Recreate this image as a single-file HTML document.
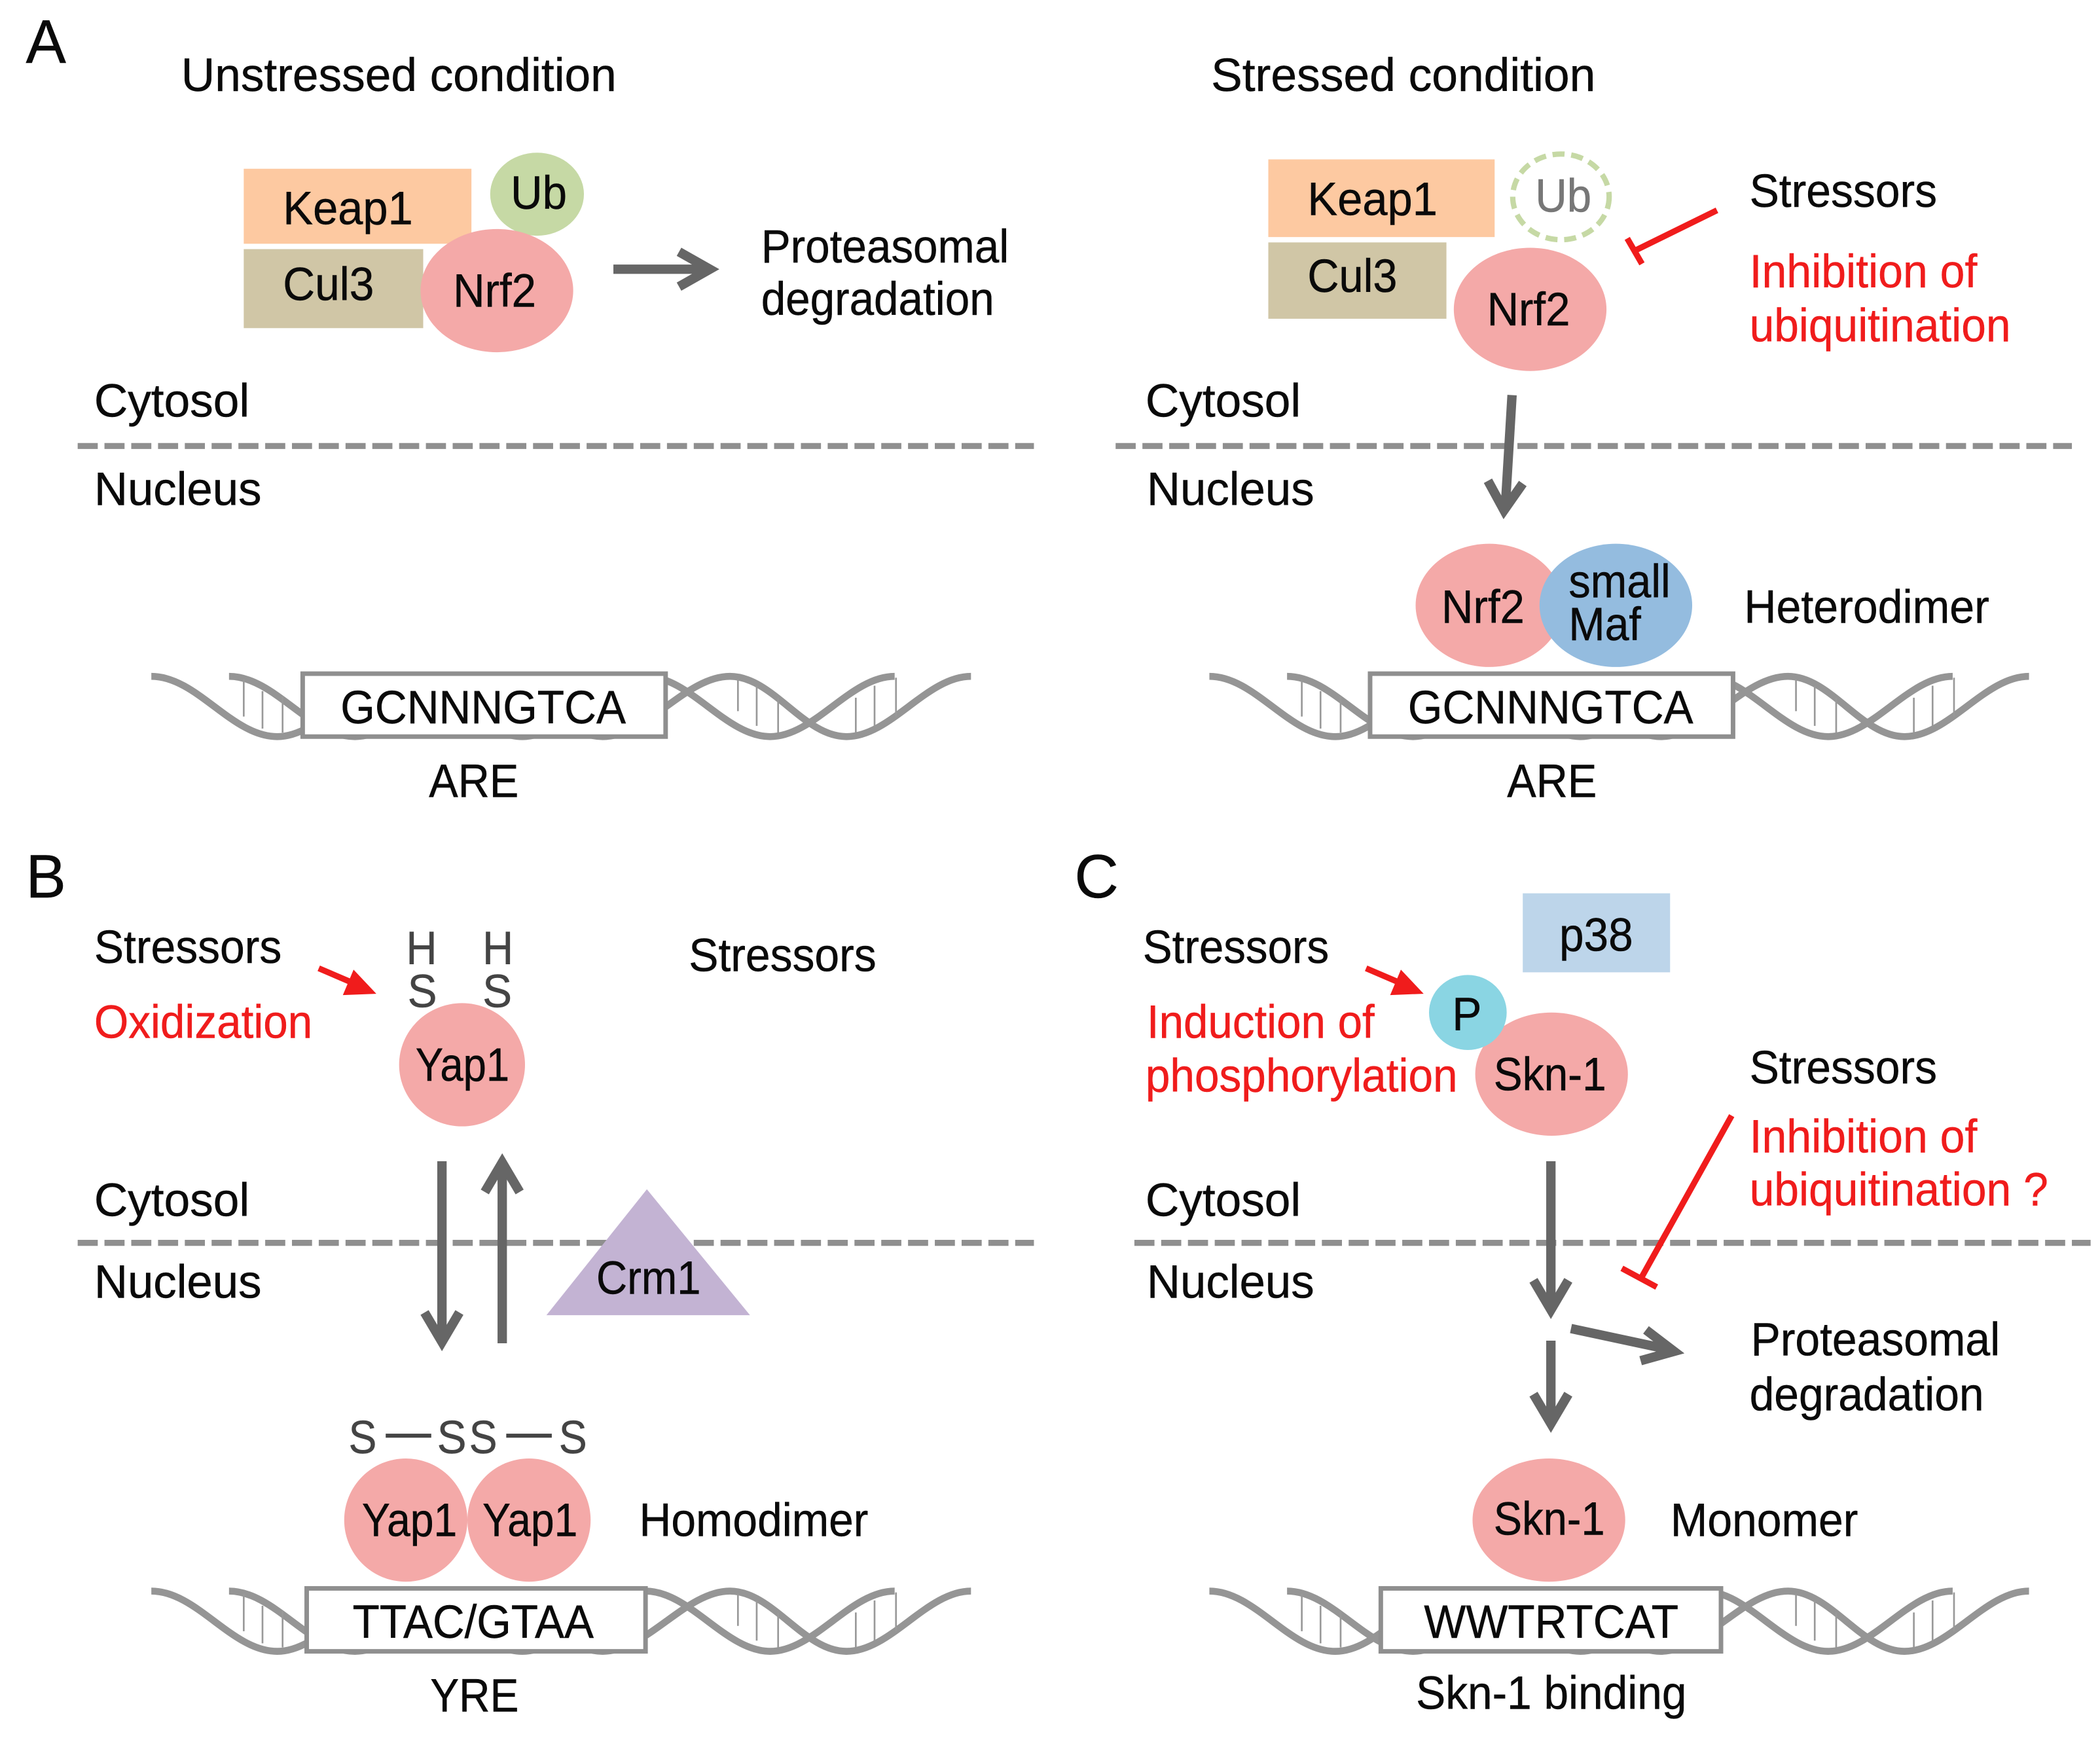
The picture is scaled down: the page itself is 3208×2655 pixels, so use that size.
<!DOCTYPE html>
<html><head><meta charset="utf-8"><title>Stress response diagram</title>
<style>
html,body{margin:0;padding:0;background:#fff}
svg{display:block}
text{font-family:"Liberation Sans",Arial,sans-serif;font-size:35px;fill:#0a0a0a;stroke:#0a0a0a;stroke-width:.25px;transform:translateX(-.7px)}
.r{fill:#f01c1c;stroke:#f01c1c}
.g{fill:#444;stroke:#444}
.big{font-size:46px}
.arr{fill:none;stroke:#666;stroke-width:7;stroke-linejoin:miter;stroke-linecap:butt}
.dash{fill:none;stroke:#8f8f8f;stroke-width:4.5;stroke-dasharray:15 5}
.box{fill:#fff;stroke:#8f8f8f;stroke-width:3.4}
.st{fill:none;stroke:#959595;stroke-width:5.2}
.rung{stroke:#999;stroke-width:1.3}
.tb{stroke:#f01c1c;stroke-width:4.5;fill:none}
</style></head>
<body>
<svg xmlns="http://www.w3.org/2000/svg" width="3208" height="2655" viewBox="0 0 1568 1297.7">
<rect width="1568" height="1298" fill="#fff"/>
<defs>
<g id="dna">
<path class="st" d="M113 505C147 505 173 550 207 550C240 550 265 505 298 505C331 505 357 550 390 550C423 550 449 505 482 505C515 505 542 550 575 550C608 550 635 505 668 505"/>
<path class="st" d="M171 505C205 505 231 550 265 550C298 550 325 505 358 505C391 505 417 550 450 550C483 550 512 505 545 505C577 505 600 550 632 550C665 550 692 505 725 505"/>
<path class="rung" d="M182 507V535M196 516V544M211 520V547M551 507V531M565 512V542M581 521V547M639 521V547M653 512V542M669 506V535"/>
</g>
</defs>

<!-- Panel A -->
<text class="big" x="20" y="47" textLength="30" lengthAdjust="spacingAndGlyphs">A</text>
<text x="136" y="68" textLength="325" lengthAdjust="spacingAndGlyphs">Unstressed condition</text>
<rect x="182" y="126" width="170" height="56" fill="#fdc9a1"/>
<rect x="182" y="186" width="134" height="59" fill="#d0c6a6"/>
<ellipse cx="401" cy="145" rx="35" ry="31" fill="#c6d9a5"/>
<ellipse cx="371" cy="217" rx="57" ry="46" fill="#f4a9a8"/>
<text x="212" y="167.5" textLength="97" lengthAdjust="spacingAndGlyphs">Keap1</text>
<text x="382" y="156" textLength="42" lengthAdjust="spacingAndGlyphs">Ub</text>
<text x="212" y="224" textLength="68" lengthAdjust="spacingAndGlyphs">Cul3</text>
<text x="339" y="229" textLength="62" lengthAdjust="spacingAndGlyphs">Nrf2</text>
<path class="arr" d="M458 201H529M507 188L530 201L507 214"/>
<text x="569" y="196" textLength="185" lengthAdjust="spacingAndGlyphs">Proteasomal</text>
<text x="569" y="235" textLength="174" lengthAdjust="spacingAndGlyphs">degradation</text>
<text x="71" y="311" textLength="116" lengthAdjust="spacingAndGlyphs">Cytosol</text>
<path class="dash" d="M58 333H772"/>
<text x="71" y="377" textLength="125" lengthAdjust="spacingAndGlyphs">Nucleus</text>
<use href="#dna"/>
<rect class="box" x="226" y="503" width="271" height="47"/>
<text x="255" y="540" textLength="213" lengthAdjust="spacingAndGlyphs">GCNNNGTCA</text>
<text x="321" y="595" textLength="67" lengthAdjust="spacingAndGlyphs">ARE</text>

<!-- Panel A stressed -->
<text x="905" y="68" textLength="287" lengthAdjust="spacingAndGlyphs">Stressed condition</text>
<rect x="947" y="119" width="169" height="58" fill="#fdc9a1"/>
<rect x="947" y="181" width="133" height="57" fill="#d0c6a6"/>
<ellipse cx="1165.5" cy="147" rx="36" ry="32" fill="#fff" stroke="#c6d9a5" stroke-width="4" stroke-dasharray="9 5"/>
<ellipse cx="1142.5" cy="231" rx="57" ry="46" fill="#f4a9a8"/>
<text x="977" y="160.500" textLength="97" lengthAdjust="spacingAndGlyphs">Keap1</text>
<text x="1147" y="158" textLength="42" lengthAdjust="spacingAndGlyphs" style="fill:#777;stroke:#777">Ub</text>
<text x="977" y="218" textLength="67" lengthAdjust="spacingAndGlyphs">Cul3</text>
<text x="1111" y="243" textLength="62" lengthAdjust="spacingAndGlyphs">Nrf2</text>
<path class="tb" d="M1282 157L1221 187M1215 178L1226 197"/>
<text x="1307" y="154.500" textLength="140" lengthAdjust="spacingAndGlyphs">Stressors</text>
<text class="r" x="1307" y="214.500" textLength="170" lengthAdjust="spacingAndGlyphs">Inhibition of</text>
<text class="r" x="1307" y="255" textLength="195" lengthAdjust="spacingAndGlyphs">ubiquitination</text>
<text x="856" y="311" textLength="116" lengthAdjust="spacingAndGlyphs">Cytosol</text>
<path class="dash" d="M833 333H1547"/>
<text x="857" y="377" textLength="125" lengthAdjust="spacingAndGlyphs">Nucleus</text>
<path class="arr" d="M1129 295L1124 378M1111 359L1123 381L1137 361"/>
<ellipse cx="1112" cy="452" rx="55" ry="46" fill="#f4a9a8"/>
<ellipse cx="1206.500" cy="452" rx="57" ry="46" fill="#94bcdf"/>
<text x="1077" y="465" textLength="62" lengthAdjust="spacingAndGlyphs">Nrf2</text>
<text x="1172" y="446" textLength="76" lengthAdjust="spacingAndGlyphs">small</text>
<text x="1172" y="478" textLength="54" lengthAdjust="spacingAndGlyphs">Maf</text>
<text x="1303" y="465" textLength="183" lengthAdjust="spacingAndGlyphs">Heterodimer</text>
<use href="#dna" x="790"/>
<rect class="box" x="1023" y="503" width="271" height="47"/>
<text x="1052" y="540" textLength="213" lengthAdjust="spacingAndGlyphs">GCNNNGTCA</text>
<text x="1126" y="595" textLength="67" lengthAdjust="spacingAndGlyphs">ARE</text>

<!-- Panel B -->
<text class="big" x="20" y="670" textLength="30" lengthAdjust="spacingAndGlyphs">B</text>
<text x="71" y="719" textLength="140" lengthAdjust="spacingAndGlyphs">Stressors</text>
<text class="r" x="71" y="775" textLength="163" lengthAdjust="spacingAndGlyphs">Oxidization</text>
<path class="tb" d="M238 723L266 735"/>
<path d="M281 742L256 743L264 724Z" fill="#f01c1c"/>
<text class="g" x="304" y="720" textLength="23" lengthAdjust="spacingAndGlyphs">H</text>
<text class="g" x="361" y="720" textLength="23" lengthAdjust="spacingAndGlyphs">H</text>
<text class="g" x="305" y="752" textLength="22" lengthAdjust="spacingAndGlyphs">S</text>
<text class="g" x="361" y="752" textLength="22" lengthAdjust="spacingAndGlyphs">S</text>
<ellipse cx="345" cy="795" rx="47" ry="46" fill="#f4a9a8"/>
<text x="311" y="807" textLength="70" lengthAdjust="spacingAndGlyphs">Yap1</text>
<text x="515" y="725" textLength="140" lengthAdjust="spacingAndGlyphs">Stressors</text>
<text x="71" y="908" textLength="116" lengthAdjust="spacingAndGlyphs">Cytosol</text>
<path class="dash" d="M58 928H772"/>
<text x="71" y="969" textLength="125" lengthAdjust="spacingAndGlyphs">Nucleus</text>
<path d="M483 888L408 982H560Z" fill="#c3b3d3"/>
<text x="446" y="966" textLength="78" lengthAdjust="spacingAndGlyphs">Crm1</text>
<path class="arr" d="M330 867V1000M317 980L330 1002L343 980"/>
<path class="arr" d="M375 1003V870M362 890L375 868L388 890"/>
<text class="g" x="261" y="1085" textLength="21" lengthAdjust="spacingAndGlyphs">S</text>
<path d="M288 1072H322M378 1072H412" stroke="#444" stroke-width="3"/>
<text class="g" x="327" y="1085" textLength="22" lengthAdjust="spacingAndGlyphs">S</text>
<text class="g" x="351" y="1085" textLength="21" lengthAdjust="spacingAndGlyphs">S</text>
<text class="g" x="418" y="1085" textLength="21" lengthAdjust="spacingAndGlyphs">S</text>
<ellipse cx="303" cy="1135" rx="46" ry="46" fill="#f4a9a8"/>
<ellipse cx="395" cy="1135" rx="46" ry="46" fill="#f4a9a8"/>
<text x="271" y="1147" textLength="71" lengthAdjust="spacingAndGlyphs">Yap1</text>
<text x="361" y="1147" textLength="71" lengthAdjust="spacingAndGlyphs">Yap1</text>
<text x="478" y="1147" textLength="171" lengthAdjust="spacingAndGlyphs">Homodimer</text>
<use href="#dna" y="683"/>
<rect class="box" x="229" y="1186" width="253" height="47"/>
<text x="264" y="1223" textLength="180" lengthAdjust="spacingAndGlyphs">TTAC/GTAA</text>
<text x="322" y="1278" textLength="66" lengthAdjust="spacingAndGlyphs">YRE</text>

<!-- Panel C -->
<text class="big" x="803" y="670" textLength="33" lengthAdjust="spacingAndGlyphs">C</text>
<text x="854" y="719" textLength="139" lengthAdjust="spacingAndGlyphs">Stressors</text>
<text class="r" x="857" y="775" textLength="170" lengthAdjust="spacingAndGlyphs">Induction of</text>
<text class="r" x="856" y="815" textLength="233" lengthAdjust="spacingAndGlyphs">phosphorylation</text>
<path class="tb" d="M1020 723L1048 735"/>
<path d="M1063 742L1038 743L1046 724Z" fill="#f01c1c"/>
<rect x="1137" y="667" width="110" height="59" fill="#bdd5ea"/>
<text x="1165" y="710" textLength="55" lengthAdjust="spacingAndGlyphs">p38</text>
<ellipse cx="1158.500" cy="802" rx="57" ry="46" fill="#f4a9a8"/>
<ellipse cx="1096" cy="756" rx="29" ry="28" fill="#8ad5e3"/>
<text x="1085" y="769" textLength="22" lengthAdjust="spacingAndGlyphs">P</text>
<text x="1116" y="814" textLength="84" lengthAdjust="spacingAndGlyphs">Skn-1</text>
<text x="1307" y="809" textLength="140" lengthAdjust="spacingAndGlyphs">Stressors</text>
<text class="r" x="1307" y="860.500" textLength="170" lengthAdjust="spacingAndGlyphs">Inhibition of</text>
<text class="r" x="1307" y="900" textLength="223" lengthAdjust="spacingAndGlyphs">ubiquitination ?</text>
<text x="856" y="908" textLength="116" lengthAdjust="spacingAndGlyphs">Cytosol</text>
<path class="dash" d="M847 928H1561"/>
<text x="857" y="969" textLength="125" lengthAdjust="spacingAndGlyphs">Nucleus</text>
<path class="tb" d="M1293 833L1225 955M1211 947L1237 961"/>
<path class="arr" d="M1158 867V976M1145 956L1158 978L1171 956"/>
<path class="arr" d="M1173 992L1248 1008M1229 993L1250 1009L1225 1016"/>
<path class="arr" d="M1158 1001V1060M1145 1041L1158 1063L1171 1041"/>
<text x="1308" y="1012" textLength="186" lengthAdjust="spacingAndGlyphs">Proteasomal</text>
<text x="1307" y="1053" textLength="175" lengthAdjust="spacingAndGlyphs">degradation</text>
<ellipse cx="1156.500" cy="1135" rx="57" ry="46" fill="#f4a9a8"/>
<text x="1116" y="1146" textLength="83" lengthAdjust="spacingAndGlyphs">Skn-1</text>
<text x="1248" y="1147" textLength="140" lengthAdjust="spacingAndGlyphs">Monomer</text>
<use href="#dna" x="790" y="683"/>
<rect class="box" x="1031" y="1186" width="254" height="47"/>
<text x="1064" y="1223" textLength="190" lengthAdjust="spacingAndGlyphs">WWTRTCAT</text>
<text x="1058" y="1276" textLength="202" lengthAdjust="spacingAndGlyphs">Skn-1 binding</text>
</svg>
</body></html>
